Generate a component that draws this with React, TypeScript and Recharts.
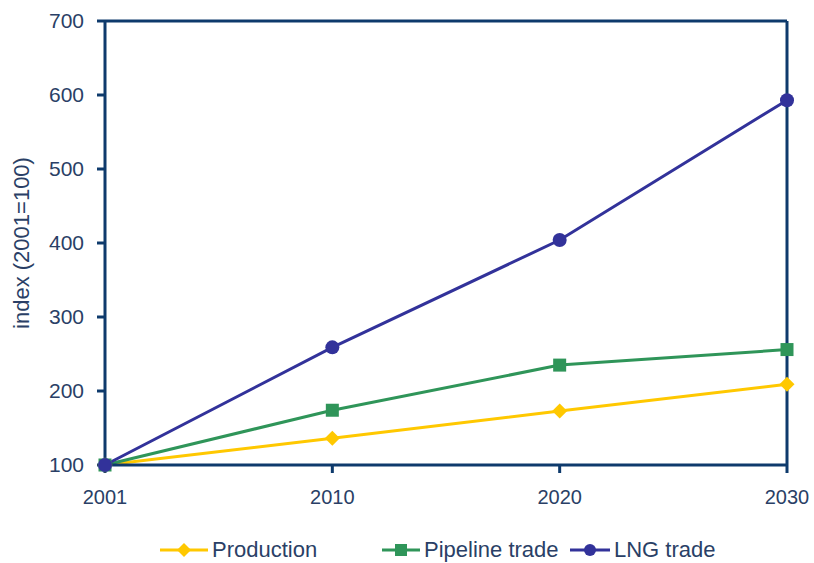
import { CartesianGrid, Line, LineChart, ReferenceLine, XAxis, YAxis } from "recharts";

const years = ["2001", "2010", "2020", "2030"];
const production = [100, 136, 173, 209];
const pipelineTrade = [100, 174, 235, 256];
const lngTrade = [100, 259, 404, 593];
const yTicks = [100, 200, 300, 400, 500, 600, 700];

const NAVY = "#0e3a6c";
const TEXT = "#2a3f66";
const YELLOW = "#ffc800";
const GREEN = "#2f9559";
const PURPLE = "#32329a";

const data = years.map((year, i) => ({
  year,
  production: production[i],
  pipeline: pipelineTrade[i],
  lng: lngTrade[i],
}));

type DotProps = { cx?: number; cy?: number; index?: number };

const Diamond = ({ cx = 0, cy = 0, index }: DotProps) => (
  <polygon
    key={`d-${index}`}
    points={`${cx},${cy - 7.5} ${cx + 7.5},${cy} ${cx},${cy + 7.5} ${cx - 7.5},${cy}`}
    fill={YELLOW}
  />
);

const Square = ({ cx = 0, cy = 0, index }: DotProps) => (
  <rect key={`s-${index}`} x={cx - 6.5} y={cy - 6.5} width={13} height={13} fill={GREEN} />
);

const Circle = ({ cx = 0, cy = 0, index }: DotProps) => (
  <circle key={`c-${index}`} cx={cx} cy={cy} r={7} fill={PURPLE} />
);

const legendItems = [
  { label: "Production", color: YELLOW, left: 160, lineW: 48, shape: "diamond" },
  { label: "Pipeline trade", color: GREEN, left: 382, lineW: 38, shape: "square" },
  { label: "LNG trade", color: PURPLE, left: 570, lineW: 40, shape: "circle" },
];

function LegendIcon({ color, width, shape }: { color: string; width: number; shape: string }) {
  const c = width / 2;
  return (
    <svg width={width} height={16} style={{ display: "block" }}>
      <line x1={0} y1={8} x2={width} y2={8} stroke={color} strokeWidth={3} />
      {shape === "diamond" && (
        <polygon points={`${c},1 ${c + 7},8 ${c},15 ${c - 7},8`} fill={color} />
      )}
      {shape === "square" && <rect x={c - 6} y={2} width={12} height={12} fill={color} />}
      {shape === "circle" && <circle cx={c} cy={8} r={6} fill={color} />}
    </svg>
  );
}

export default function App() {
  return (
    <div
      style={{
        position: "absolute",
        left: 0,
        top: 0,
        width: 814,
        height: 563,
        background: "#fff",
        fontFamily: "'Liberation Sans', Arial, sans-serif",
      }}
    >
      <LineChart
        width={814}
        height={563}
        data={data}
        margin={{ top: 21, right: 27, bottom: 0, left: 0 }}
      >
        <CartesianGrid horizontal={false} vertical={false} />
        <XAxis
          dataKey="year"
          height={98}
          stroke={NAVY}
          strokeWidth={3}
          tickSize={8}
          tickMargin={17}
          tick={{ fill: TEXT, fontSize: 20 }}
          interval={0}
        />
        <YAxis
          domain={[100, 700]}
          ticks={yTicks}
          width={105}
          stroke={NAVY}
          strokeWidth={3}
          tickSize={8}
          tickMargin={13}
          tick={{ fill: TEXT, fontSize: 21 }}
          label={{
            value: "index (2001=100)",
            angle: -90,
            position: "insideLeft",
            offset: 21,
            fill: TEXT,
            fontSize: 22,
            style: { textAnchor: "middle" },
          }}
        />
        <ReferenceLine y={700} stroke={NAVY} strokeWidth={3} />
        <ReferenceLine x="2030" stroke={NAVY} strokeWidth={3} />
        <Line
          dataKey="production"
          stroke={YELLOW}
          strokeWidth={3}
          dot={(p: DotProps) => <Diamond {...p} />}
          isAnimationActive={false}
        />
        <Line
          dataKey="pipeline"
          stroke={GREEN}
          strokeWidth={3}
          dot={(p: DotProps) => <Square {...p} />}
          isAnimationActive={false}
        />
        <Line
          dataKey="lng"
          stroke={PURPLE}
          strokeWidth={3}
          dot={(p: DotProps) => <Circle {...p} />}
          isAnimationActive={false}
        />
      </LineChart>
      {legendItems.map((item) => (
        <div
          key={item.label}
          style={{
            position: "absolute",
            left: item.left,
            top: 538,
            display: "flex",
            alignItems: "center",
            gap: 4,
            color: TEXT,
            fontSize: 22,
            lineHeight: "24px",
          }}
        >
          <LegendIcon color={item.color} width={item.lineW} shape={item.shape} />
          <span>{item.label}</span>
        </div>
      ))}
    </div>
  );
}
